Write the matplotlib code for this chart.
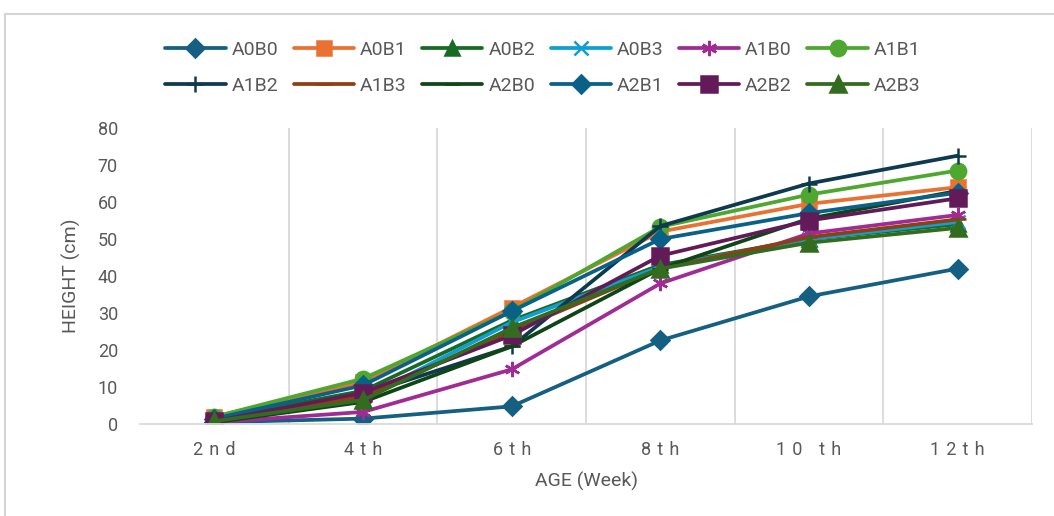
import matplotlib.pyplot as plt
from matplotlib.patches import Rectangle

plt.rcParams['font.family'] = ['Roboto', 'DejaVu Sans']

weeks = ["2nd", "4th", "6th", "8th", "10 th", "12th"]

A0B0 = [0.5, 1.5, 4.8, 22.6, 34.5, 42.0]
A0B1 = [2.0, 11.5, 31.5, 52.0, 59.5, 64.0]
A0B2 = [1.5, 9.0, 28.0, 43.0, 50.0, 54.0]
A0B3 = [1.0, 7.0, 27.5, 42.5, 50.0, 54.6]
A1B0 = [0.5, 3.3, 14.8, 38.0, 51.5, 56.5]
A1B1 = [2.0, 12.3, 30.5, 53.3, 62.0, 68.5]
A1B2 = [1.0, 8.0, 21.0, 53.5, 65.0, 72.5]
A1B3 = [1.0, 7.5, 25.0, 42.0, 50.5, 55.3]
A2B0 = [0.5, 6.0, 21.0, 42.0, 55.5, 63.0]
A2B1 = [1.5, 10.5, 30.5, 50.0, 57.0, 62.5]
A2B2 = [0.8, 8.5, 24.0, 45.5, 55.0, 61.0]
A2B3 = [0.8, 6.5, 26.0, 42.0, 49.0, 53.0]

series = [
    ("A0B0", A0B0, "#156082", "D", 9),
    ("A0B1", A0B1, "#E97132", "s", 10),
    ("A0B2", A0B2, "#196B24", "^", 10),
    ("A0B3", A0B3, "#0F9ED5", "x", 10),
    ("A1B0", A1B0, "#A02B93", (6, 2, 0), 11),
    ("A1B1", A1B1, "#4EA72E", "o", 11),
    ("A1B2", A1B2, "#0D3A4E", "+", 12),
    ("A1B3", A1B3, "#8E3F14", "_", 12),
    ("A2B0", A2B0, "#0F4517", "_", 12),
    ("A2B1", A2B1, "#0A6188", "D", 9),
    ("A2B2", A2B2, "#621B58", "s", 11),
    ("A2B3", A2B3, "#336B1F", "^", 11),
]

fig = plt.figure(figsize=(10.54, 5.16), dpi=100)
ax = fig.add_axes([0.133, 0.178, 0.846, 0.574])

x = list(range(len(weeks)))
handles = []
for name, vals, color, marker, ms in series:
    h, = ax.plot(x, vals, color=color, lw=2.7, marker=marker, markersize=ms,
                 markeredgewidth=1.8, label=name, solid_capstyle="round")
    handles.append(h)

ax.set_xlim(-0.5, len(weeks) - 0.5)
ax.set_ylim(0, 80)
ax.set_yticks(range(0, 81, 10))
ax.set_xticks(x)
ax.set_xticklabels(["\u2004".join(w) for w in weeks])

# vertical separators between the week groups
for b in [i + 0.5 for i in range(len(weeks))]:
    ax.axvline(b, color="#d9d9d9", lw=1.3, zorder=0)

for side in ["top", "right", "left"]:
    ax.spines[side].set_visible(False)
ax.spines["bottom"].set_color("#d9d9d9")
ax.spines["bottom"].set_linewidth(1.3)
ax.tick_params(axis="both", length=0, colors="#595959", labelsize=13)
ax.tick_params(axis="y", pad=16)
ax.tick_params(axis="x", pad=12)

ax.set_xlabel("AGE (Week)", fontsize=14, color="#595959", labelpad=9)
ax.set_ylabel("HEIGHT (cm)", fontsize=14, color="#595959", labelpad=12)

# legend reads row by row: reorder for matplotlib's column-first fill
ncol = 6
order = [r * ncol + c for c in range(ncol) for r in range(2)]
fig.legend([handles[i] for i in order], [series[i][0] for i in order],
           loc="upper center", bbox_to_anchor=(0.515, 0.955), ncol=ncol,
           frameon=False, fontsize=14, handlelength=3.1, handletextpad=0.3,
           columnspacing=0.8, labelspacing=0.95, labelcolor="#595959")

# outer chart border
fig.add_artist(Rectangle((0.005, -0.1), 1.2, 1.073, transform=fig.transFigure,
                         fill=False, edgecolor="#d4d4d4", lw=1.5))

fig.savefig("out.png", dpi=100)
